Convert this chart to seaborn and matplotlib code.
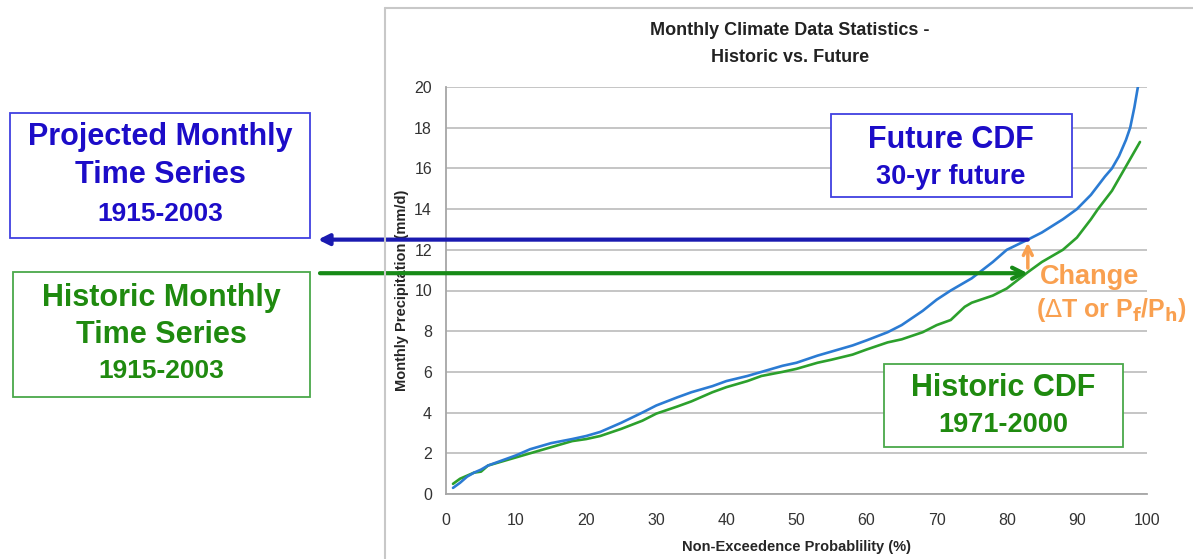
import pandas as pd
import matplotlib.pyplot as plt
import seaborn as sns
from matplotlib.patches import Rectangle
from matplotlib.lines import Line2D

# values
prob_future = [1, 2, 3, 4, 5, 6, 8, 10, 12, 15, 18, 20, 22, 25, 28, 30, 33, 35, 38, 40,
               43, 45, 48, 50, 53, 55, 58, 60, 63, 65, 68, 70, 72, 75, 78, 80, 83, 85,
               88, 90, 92, 94, 95, 96, 97, 97.6, 98.2, 98.8]
precip_future = [0.3, 0.55, 0.85, 1.05, 1.2, 1.4, 1.65, 1.9, 2.2, 2.5, 2.7, 2.85, 3.05, 3.5,
                 4.0, 4.35, 4.75, 5.0, 5.3, 5.55, 5.8, 6.0, 6.3, 6.45, 6.8, 7.0, 7.3, 7.55,
                 7.95, 8.3, 9.0, 9.55, 10.0, 10.6, 11.4, 12.0, 12.5, 12.85, 13.5, 14.0, 14.7,
                 15.6, 16.0, 16.6, 17.4, 18.0, 19.0, 20.2]

prob_hist = [1, 2, 3, 4, 5, 6, 8, 10, 12, 15, 18, 20, 22, 25, 28, 30, 33, 35, 38, 40,
             43, 45, 48, 50, 53, 55, 58, 60, 63, 65, 68, 70, 72, 74, 75, 78, 80, 83, 85,
             88, 90, 92, 93, 95, 97, 98, 99]
precip_hist = [0.5, 0.75, 0.9, 1.05, 1.1, 1.4, 1.6, 1.8, 2.0, 2.3, 2.6, 2.7, 2.85, 3.2,
               3.6, 3.95, 4.3, 4.55, 5.0, 5.25, 5.55, 5.8, 6.0, 6.15, 6.45, 6.6, 6.85, 7.1,
               7.45, 7.6, 7.95, 8.3, 8.55, 9.2, 9.4, 9.75, 10.1, 10.9, 11.4, 12.0, 12.6,
               13.5, 14.0, 14.9, 16.1, 16.7, 17.3]

change_prob = 83
future_level = 12.5
hist_level = 10.85

title = "Monthly Climate Data Statistics -\nHistoric vs. Future"
xlabel = "Non-Exceedence Probablility (%)"
ylabel = "Monthly Precipitation (mm/d)"

df_f = pd.DataFrame({"p": prob_future, "v": precip_future})
df_h = pd.DataFrame({"p": prob_hist, "v": precip_hist})

sns.set_style("white")
plt.rcParams["font.family"] = ["Liberation Sans", "DejaVu Sans"]

W, H = 1193, 559
fig = plt.figure(figsize=(W / 100, H / 100), dpi=100)


def fx(x):
    return x / W


def fy(y):
    return 1 - y / H


ax = fig.add_axes([fx(446), fy(494), (1147 - 446) / W, (494 - 87) / H])

# outer chart frame
fig.add_artist(Line2D([fx(385), fx(385)], [fy(8), 0], color="#c8c8c8", lw=1.5))
fig.add_artist(Line2D([fx(385), 1], [fy(8), fy(8)], color="#c8c8c8", lw=1.5))

sns.lineplot(data=df_h, x="p", y="v", ax=ax, color="#2ca02c", lw=1.9)
sns.lineplot(data=df_f, x="p", y="v", ax=ax, color="#2b7bd3", lw=1.9)

ax.set_xlim(0, 100)
ax.set_ylim(0, 20)
ax.set_xticks(range(0, 101, 10))
ax.set_yticks(range(0, 21, 2))
ax.yaxis.grid(True, color="#c0c0c0", lw=1.3)
ax.set_axisbelow(True)
for s in ["top", "right"]:
    ax.spines[s].set_visible(False)
for s in ["left", "bottom"]:
    ax.spines[s].set_color("#a6a6a6")
    ax.spines[s].set_linewidth(1.3)
ax.tick_params(axis="both", direction="out", length=5, width=1.2, color="#a6a6a6",
               labelsize=11.5, labelcolor="#333333")
ax.tick_params(axis="y", pad=5)
ax.tick_params(axis="x", pad=9)
ax.set_xlabel(xlabel, fontsize=10.5, fontweight="bold", labelpad=8)
ax.set_ylabel(ylabel, fontsize=10.5, fontweight="bold", labelpad=4)
fig.text(fx(790), fy(44), title, ha="center", va="center", fontsize=13,
         fontweight="bold", linespacing=1.75, color="#222222")

# arrows
ax.annotate("", xy=(fx(318), future_level), xycoords=("figure fraction", "data"),
            xytext=(change_prob, future_level), textcoords="data",
            arrowprops=dict(arrowstyle="-|>", color="#1a1ab0", lw=3,
                            mutation_scale=16, shrinkA=0, shrinkB=0),
            annotation_clip=False)
ax.annotate("", xy=(change_prob, hist_level), xycoords="data",
            xytext=(fx(320), hist_level), textcoords=("figure fraction", "data"),
            arrowprops=dict(arrowstyle="->", color="#178a17", lw=3,
                            mutation_scale=20, shrinkA=0, shrinkB=0),
            annotation_clip=False)
ax.annotate("", xy=(change_prob, future_level - 0.15), xycoords="data",
            xytext=(change_prob, hist_level + 0.25), textcoords="data",
            arrowprops=dict(arrowstyle="->", color="#f9a050", lw=2.5,
                            mutation_scale=16, shrinkA=0, shrinkB=0),
            annotation_clip=False)

orange = "#f9a050"
fig.text(fx(1040), fy(277), "Change", ha="left", va="center", fontsize=19.5,
         fontweight="bold", color=orange)
fig.text(fx(1036), fy(310), r"($\Delta$T or P$_\mathbf{f}$/P$_\mathbf{h}$)", ha="left",
         va="center", fontsize=18, fontweight="bold", color=orange)

# text boxes
blue_txt = "#1c0cc8"
green_txt = "#1f8a0f"


def box(x0, y0, x1, y1, edge):
    fig.add_artist(Rectangle((fx(x0), fy(y1)), fx(x1 - x0), (y1 - y0) / H,
                             transform=fig.transFigure, facecolor="white",
                             edgecolor=edge, lw=1.3, zorder=2))


def label(x, y, s, size, color):
    fig.text(fx(x), fy(y), s, ha="center", va="center", fontsize=size,
             fontweight="bold", color=color, zorder=3)


box(10, 113, 310, 238, "#4040e0")
label(160, 137, "Projected Monthly", 22, blue_txt)
label(160, 175, "Time Series", 22, blue_txt)
label(160, 214, "1915-2003", 19, blue_txt)

box(13, 272, 310, 397, "#4aa84a")
label(161, 298, "Historic Monthly", 22, green_txt)
label(161, 335, "Time Series", 22, green_txt)
label(161, 371, "1915-2003", 19, green_txt)

box(831, 114, 1072, 197, "#4040e0")
label(951, 140, "Future CDF", 22, blue_txt)
label(951, 177, "30-yr future", 19.5, blue_txt)

box(884, 364, 1123, 447, "#4aa84a")
label(1003, 388, "Historic CDF", 22, green_txt)
label(1003, 425, "1971-2000", 19.5, green_txt)

fig.savefig("out.png", dpi=100)
